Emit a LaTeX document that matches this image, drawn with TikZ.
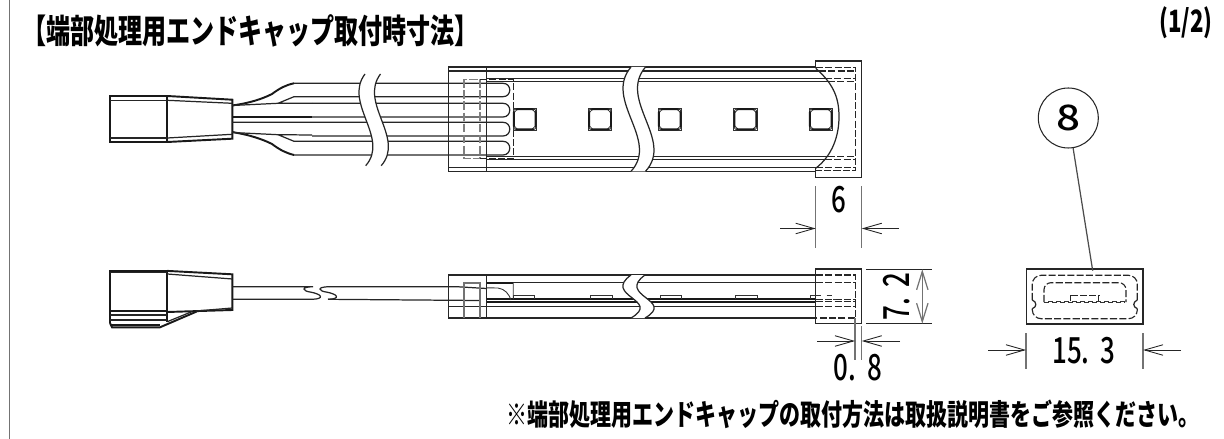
\documentclass[tikz,border=0pt]{standalone}
\usepackage{fontspec}
\usetikzlibrary{arrows.meta}
\newfontfamily\gothic[FakeStretch=.72]{Noto Sans CJK JP}
\newfontfamily\dimfont[FakeStretch=.72]{Noto Sans CJK JP Medium}
\newfontfamily\tagfont[FakeStretch=1.2]{Noto Sans CJK JP Medium}
\tikzset{
	part/.style={line width=.7pt,black!85},
	fine/.style={line width=.5pt,black!80},
	heavy/.style={line width=1.1pt,black!90},
	hidden/.style={line width=.65pt,black!85,dash pattern=on 4pt off 1.3pt},
	hiddengray/.style={line width=.7pt,black!50,dash pattern=on 5pt off 1.3pt},
	extline/.style={line width=.7pt,black!55},
	dimline/.style={line width=.5pt,black!85,-{Straight Barb[length=10.5pt,width=6pt]}},
	gap/.style={fill=white,draw=none},
	heading/.style={inner sep=0pt,font=\gothic\bfseries\fontsize{19}{21}\selectfont},
	dimtext/.style={inner sep=0pt,font=\dimfont\fontsize{20.5}{22}\selectfont},
}
\begin{document}
\begin{tikzpicture}[x=.02cm,y=-.02cm]
	\useasboundingbox (0,0) rectangle (1224,439);
	\draw[line width=.9pt,black!55] (9.5,0)--(9.5,439);
	\node[heading,anchor=west] (title) at (22,31) {【端部処理用エンドキャップ取付時寸法】};
	\node[heading,anchor=east,font=\gothic\bfseries\fontsize{17.5}{19}\selectfont] (sheet) at (1213,23) {(1/2)};
	\node[heading,anchor=east,font=\gothic\bfseries\fontsize{16.6}{18}\selectfont] (note) at (1200,414) {※端部処理用エンドキャップの取付方法は取扱説明書をご参照ください。};
	% top view, connector
	\draw[heavy] (110,96) rectangle (167.3,142);
	\draw[part] (110,100.3)--(167.3,100.3) (110,138)--(167.3,138);
	\draw[heavy] (167.3,96)--(232.3,99.7)--(232.3,138.7)--(167.3,142);
	\draw[part] (167.3,100.3)--(232.3,103.3) (167.3,138)--(232.3,134.3);
	% top view, wires
	\draw[heavy] (232,105.5) .. controls (250,103) and (262,99) .. (272,94) .. controls (280,88) and (286,85) .. (294,83.3);
	\draw[heavy] (232,132) .. controls (250,135) and (262,139) .. (272,144) .. controls (280,150) and (286,153) .. (294,155);
	\draw[part] (232,105.5)--(278,103.3)--(294,96.7) (278,103.3)--(312,103.3);
	\draw[part] (232,132.5)--(278,134.7)--(294,141.3) (278,134.7)--(312,135);
	\foreach \wa/\wb/\sa/\sb in {83.3/96.7/294/294,103.3/117/312/232,122.3/136/232/312,141.3/155/294/294}
		\draw[part] (\sa,\wa)--(503,\wa) .. controls (512,\wa) and (512,\wb) .. (503,\wb)--(\sb,\wb);
	\draw[heavy] (232,117)--(312,117);
	\path[gap] (365,74) .. controls (343,103) and (390,138) .. (365.7,165.7)--(381.2,165.7) .. controls (405.5,138) and (358.5,103) .. (380.5,74)--cycle;
	\draw[part] (365,74) .. controls (343,103) and (390,138) .. (365.7,165.7);
	\draw[part] (380.5,74) .. controls (358.5,103) and (405.5,138) .. (381.2,165.7);
	% top view, strip
	\draw[part] (448.5,67) rectangle (486.5,171.3);
	\draw[part] (486.5,67)--(486.5,171.3) (448.5,71)--(486.5,71) (448.5,167.3)--(486.5,167.3);
	\draw[part] (486.5,67)--(816,67) (486.5,71)--(819,71) (486.5,78.3)--(825,78.3) (486.5,81.3)--(828,81.3);
	\draw[part] (486.5,171.3)--(816,171.3) (486.5,167.3)--(816,167.3) (486.5,156.7)--(828,156.7) (486.5,159.3)--(825,159.3);
	\path[gap] (631,67) .. controls (603,100) and (660,140) .. (631,171.3)--(645.5,171.3) .. controls (674.5,140) and (617.5,100) .. (645.5,67)--cycle;
	\draw[part] (631,67) .. controls (603,100) and (660,140) .. (631,171.3);
	\draw[part] (645.5,67) .. controls (617.5,100) and (674.5,140) .. (645.5,171.3);
	\draw[hiddengray] (464,79.3) rectangle (480,158.7);
	\draw[hidden] (480,79.3)--(513.3,79.3)--(513.3,158.7)--(480,158.7);
	\foreach \ledx in {513,588.3,658,733.7,809}{
		\draw[fine] (\ledx,108.3) rectangle (\ledx+23.5,130.3);
		\draw[heavy,rounded corners=2pt] (\ledx+.8,109.2) rectangle (\ledx+22.7,129.4);
		\foreach \cx/\cy in {2/110.5,21.5/110.5,2/128,21.5/128}
			\fill[white,draw=black!80,line width=.3pt] (\ledx+\cx,\cy) circle (1.3);
	}
	% top view, end cap
	\draw[part] (815.7,68.3)--(815.7,61)--(861.7,61)--(861.7,177.3)--(815.7,177.3)--(815.7,168.3);
	\draw[part] (815.7,68.3) .. controls (835,85) and (839,100) .. (839,116.7) .. controls (839,135) and (833,155) .. (815.7,168.3);
	\draw[hidden] (816,67.3)--(855.7,67.3)--(855.7,170.7)--(816,170.7);
	\foreach \hy/\hx in {71/819,78.3/825,81.3/828,156.7/828,159.3/825,167.3/816}
		\draw[hidden] (\hx,\hy)--(855.7,\hy);
	% side view, connector
	\draw[heavy] (110,323)--(110,270.7)--(167.3,270.7)--(167.3,321.7);
	\draw[heavy] (110,323)--(112,327.3)--(160,327.3)--(196.7,311.5);
	\draw[part] (110,272.7)--(167.3,272.7) (110,315)--(167.3,315) (110,320)--(167.3,320);
	\draw[heavy] (110,311)--(167.3,311) (110,325)--(160,325);
	\draw[heavy] (167.3,270.9)--(232.3,274.3)--(232.3,310)--(167.3,312);
	\draw[part] (167.3,274)--(232.3,279) (167.3,321.7)--(191.7,311.7) (196,311)--(232.3,308);
	% side view, wire
	\draw[part] (232.3,286.7)--(313,286.7) .. controls (300,287) and (303,291) .. (310,292) .. controls (322,294) and (325,299) .. (312,299.3)--(232.3,299.3);
	\draw[part] (329,286.7) .. controls (316,287) and (319,291) .. (326,292) .. controls (338,294) and (341,299) .. (328,299.3);
	\draw[part] (329,286.7)--(456.7,286.7)--(486.5,288.5) (328,299.3)--(480,300.5);
	% side view, strip
	\draw[part] (448.5,275) rectangle (486.5,318);
	\draw[part] (448.5,306.7)--(486.5,306.7);
	\draw[extline] (464,318)--(464,283)--(480,283)--(480,318);
	\foreach \ly in {275,282.7,306.7,318}
		\draw[part] (486.5,\ly)--(815.7,\ly);
	\draw[heavy] (486.5,299.3)--(815.7,299.3) (486.5,301.7)--(815.7,301.7);
	\foreach \ledx/\ledw in {513.3/21.4,590/22,660/21.3,735.3/22}
		\draw[fine] (\ledx,299.3)--(\ledx,295.7)--(\ledx+\ledw,295.7)--(\ledx+\ledw,299.3);
	\path[gap] (631,275) .. controls (602,296) and (662,300) .. (631,318)--(645,318) .. controls (676,300) and (616,296) .. (645,275)--cycle;
	\draw[part] (631,275) .. controls (602,296) and (662,300) .. (631,318);
	\draw[part] (645,275) .. controls (616,296) and (676,300) .. (645,318);
	\draw[heavy] (486.5,282.9)--(513.3,282.9);
	\draw[fine] (513.3,282.7)--(513.3,299.3) (486.5,287.8)--(498,288) .. controls (505,289) and (509,294) .. (511,300);
	% side view, end cap
	\draw[part] (815.7,269) rectangle (861.7,323.7);
	\draw[hidden] (816,275)--(855.7,275)--(855.7,318)--(816,318);
	\foreach \hy in {282.7,299.3,301.7,306.7}
		\draw[hidden] (816,\hy)--(855.7,\hy);
	\draw[fine] (810.7,299.3)--(810.7,295.5)--(816,295.5);
	\draw[fine,dashed] (816,295.5)--(832.3,295.5)--(832.3,299.3)--(836,299.3);
	% end view
	\draw[part] (1026.7,269) rectangle (1143,324);
	\draw[hidden,rounded corners=5pt] (1032.3,300)--(1032.3,275.3)--(1137.3,275.3)--(1137.3,300);
	\draw[part] (1032.3,300) .. controls (1037,302) and (1037,307) .. (1032.3,308.7);
	\draw[part] (1137.3,300) .. controls (1132.6,302) and (1132.6,307) .. (1137.3,308.7);
	\draw[hidden,rounded corners=5pt] (1032.3,308.7)--(1032.3,318.7)--(1137.3,318.7)--(1137.3,308.7);
	\draw[hidden,rounded corners=4pt] (1044,302)--(1044,282.7)--(1126,282.7)--(1126,302);
	\draw[part] (1070.7,301)--(1070.7,295.3) (1098.7,295.3)--(1098.7,301);
	\draw[hidden] (1070.7,295.3)--(1098.7,295.3);
	\foreach \sx in {1044,1052,...,1118}
		\draw[fine] (\sx,302.5)--(\sx+4,302.5)--(\sx+4,301)--(\sx+8,301)--(\sx+8,302.5);
	\node[circle,draw=black!85,line width=.6pt,minimum size=1.2cm,inner sep=0pt,font=\tagfont\fontsize{20}{22}\selectfont] (balloon) at (1068.3,118) {8};
	\coordinate (balloonend) at (1092.7,270.7);
	\draw[line width=.7pt,black!70] (balloon)--(balloonend);
	% dimensions
	\draw[extline] (815.7,186)--(815.7,248) (861.7,186)--(861.7,248);
	\draw[dimline] (780,228.5)--(815.7,228.5);
	\draw[dimline] (899,228.5)--(861.7,228.5);
	\node[dimtext] (dimsix) at (838.7,199.5) {6};
	\draw[part] (866,269.3)--(931.7,269.3) (866,323.7)--(931.7,323.7);
	\draw[extline,<->,>={Straight Barb[length=10.5pt,width=6.5pt]}] (922.3,269.3)--(922.3,323.7);
	\node[dimtext,rotate=90] (dimheight) at (897,296.5) {7. \hspace{.06em}2};
	\draw[extline] (855,318)--(855,360) (861.7,326)--(861.7,360);
	\draw[dimline] (817,341)--(855,341);
	\draw[dimline] (900,341)--(861.7,341);
	\node[dimtext] (dimwall) at (858,367.5) {0. \hspace{.12em}8};
	\draw[extline] (1026,333.3)--(1026,369) (1143,333.3)--(1143,369);
	\draw[dimline] (988,350)--(1026,350);
	\draw[dimline] (1181,350)--(1143,350);
	\node[dimtext] (dimwidth) at (1084,350.5) {15. \hspace{.1em}3};
\end{tikzpicture}
\end{document}
